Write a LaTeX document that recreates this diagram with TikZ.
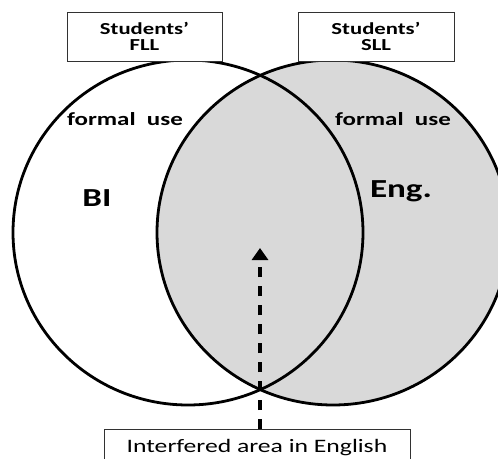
\documentclass[tikz,border=0pt]{standalone}
\usepackage{fontspec}
\setmainfont{Carlito}[FakeStretch=1.35]
\usetikzlibrary{arrows.meta}
\definecolor{vennfill}{RGB}{217,217,217}
\definecolor{boxline}{RGB}{50,50,50}
\begin{document}
\begin{tikzpicture}[x=1pt,y=-1pt,
  ring/.style={line width=2.8pt, draw=black},
  labelbox/.style={draw=boxline, line width=1pt, fill=white, align=center, inner sep=0pt},
  toptext/.style={font=\fontsize{16.8}{16}\selectfont\bfseries},
  usetext/.style={font=\fontsize{18.5}{20}\selectfont\bfseries, anchor=base, inner sep=0pt},
  langtext/.style={font=\fontsize{26}{28}\selectfont\bfseries, anchor=base, inner sep=0pt},
  bottext/.style={font=\fontsize{19}{20}\selectfont},
  dasharrow/.style={line width=3.3pt, dash pattern=on 10pt off 9pt, -{Triangle[width=16pt,length=12pt]}}
]
\clip (0,0) rectangle (498,458);
\useasboundingbox (0,0) rectangle (498,458);
% right set (SLL), filled
\path[ring, fill=vennfill] (333,232.5) ellipse [x radius=176pt, y radius=172.5pt];
% left set (FLL)
\path[ring] (188,232.5) ellipse [x radius=175pt, y radius=172.5pt];
% top labels
\node[labelbox, toptext, minimum width=155pt, minimum height=49pt] (fll) at (144.5,36.5) {Students’\\FLL};
\node[labelbox, toptext, minimum width=156pt, minimum height=49pt] (sll) at (376,36.5) {Students’\\SLL};
% inner texts
\node[usetext] (fuL) at (125,125) {formal\ \ use};
\node[usetext] (fuR) at (393,125) {formal\ \ use};
\node[langtext] (bi) at (97,206) {BI};
\node[langtext] (eng) at (401,197) {Eng.};
% bottom label
\node[labelbox, bottext, anchor=north, minimum width=306pt, inner ysep=9.5pt, text height=13pt, text depth=5pt] (area) at (257,429) {Interfered area in English};
\coordinate (tip) at (260,248);
\draw[dasharrow] (tip |- area.north) -- (tip);
\end{tikzpicture}
\end{document}
